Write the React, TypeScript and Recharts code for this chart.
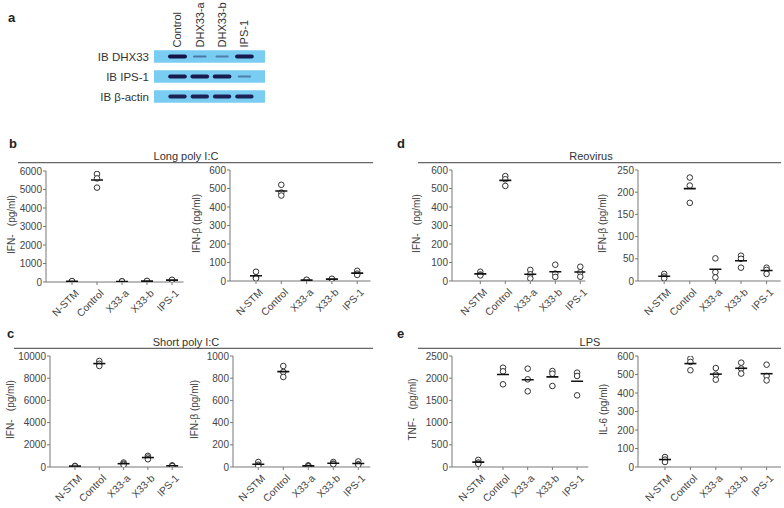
import React from 'react';
import { ScatterChart, Scatter, XAxis, YAxis, ReferenceArea } from 'recharts';

// ---------- data ----------
const CATEGORIES = ['N-STM', 'Control', 'X33-a', 'X33-b', 'IPS-1'];

const LONG_IFNA = [[30, 40, 50], [5840, 5600, 5100], [20, 30, 35], [40, 50, 60], [80, 100, 120]];
const LONG_IFNB = [[50, 20, 14], [520, 478, 462], [3, 5, 7], [8, 10, 12], [55, 40, 33]];
const REO_IFNA = [[50, 35, 30], [567, 550, 514], [60, 36, 14], [88, 40, 22], [77, 47, 23]];
const REO_IFNB = [[16, 10, 6], [233, 215, 176], [51, 20, 8], [57, 50, 30], [30, 25, 16]];
const SHORT_IFNA = [[100, 80, 60], [9550, 9300, 9100], [400, 300, 200], [1000, 850, 700], [150, 100, 80]];
const SHORT_IFNB = [[45, 20, 10], [910, 856, 811], [15, 10, 5], [45, 30, 25], [50, 25, 20]];
const LPS_TNF = [[160, 100, 70], [2237, 2155, 1862], [2215, 1975, 1705], [2162, 2102, 1824], [2125, 2050, 1614]];
const LPS_IL6 = [[54, 40, 27], [586, 568, 523], [535, 499, 472], [564, 532, 505], [553, 492, 468]];

const TICKS_6000 = [0, 1000, 2000, 3000, 4000, 5000, 6000];
const TICKS_600 = [0, 100, 200, 300, 400, 500, 600];
const TICKS_250 = [0, 50, 100, 150, 200, 250];
const TICKS_10000 = [0, 2000, 4000, 6000, 8000, 10000];
const TICKS_1000 = [0, 200, 400, 600, 800, 1000];
const TICKS_2500 = [0, 500, 1000, 1500, 2000, 2500];

const BLOT_LANES = ['Control', 'DHX33-a', 'DHX33-b', 'IPS-1'];
const BLOT_ROWS = ['IB DHX33', 'IB IPS-1', 'IB \u03B2-actin'];
const BLOT_DHX33 = [1.0, 0.22, 0.18, 0.95];
const BLOT_IPS1 = [0.95, 0.95, 0.95, 0.18];
const BLOT_ACTIN = [0.9, 0.9, 0.9, 0.9];

const FONT = '"Liberation Sans", Arial, Helvetica, sans-serif';
const TXT = '#444';
const AX = '#777';

// ---------- blot ----------
const LaneTick = (props: any) => {
  const { x, payload } = props;
  const y = 47.5;
  return (
    <text x={x} y={y} transform={`rotate(-90, ${x}, ${y})`} textAnchor="start" dy="0.35em"
      fontSize={11} fill="#333" fontFamily={FONT}>
      {BLOT_LANES[payload.value]}
    </text>
  );
};

const BandShape = (props: any) => {
  const { cx, cy, payload } = props;
  const v = payload.v;
  const w = 12 + 7 * v;
  const h = 1.5 + 2.6 * v;
  return <rect x={cx - w / 2} y={cy - h / 2} width={w} height={h} rx={h / 2} fill="#14144a" fillOpacity={0.3 + 0.7 * v} />;
};

function Blot() {
  const rows = [BLOT_DHX33, BLOT_IPS1, BLOT_ACTIN];
  const data = rows.flatMap((r, ri) => r.map((v, li) => ({ lane: li, row: ri, v })));
  const xDom: [number, number] = [-1.054, 3.924];
  return (
    <div style={{ position: 'absolute', left: 0, top: 0 }}>
      <ScatterChart width={275} height={110} margin={{ top: 0, right: 10, bottom: 3.5, left: 0 }}>
        <XAxis type="number" dataKey="lane" orientation="top" domain={xDom} ticks={[0, 1, 2, 3]} height={46.5}
          axisLine={false} tickLine={false} tick={<LaneTick />} allowDataOverflow interval={0} />
        <YAxis type="number" dataKey="row" domain={[-0.5, 2.5]} reversed ticks={[0, 1, 2]} width={154}
          axisLine={false} tickLine={false} tickSize={0} tickMargin={5} interval={0} allowDataOverflow
          tick={{ fontSize: 11.5, fill: '#333', fontFamily: FONT }}
          tickFormatter={(v: number) => BLOT_ROWS[v]} />
        {BLOT_ROWS.map((_, i) => (
          <ReferenceArea key={i} x1={xDom[0]} x2={xDom[1]} y1={i - 0.31} y2={i + 0.31}
            fill="#7acdf2" fillOpacity={1} stroke="none" ifOverflow="visible" />
        ))}
        <Scatter data={data} dataKey="row" shape={BandShape} isAnimationActive={false} />
      </ScatterChart>
    </div>
  );
}

// ---------- scatter panels ----------
type Geo = { axisX: number; first: number; sp: number; end: number; top: number; zero: number; labOff: number };

const CatTick = (props: any) => {
  const { x, y, payload } = props;
  const tx = x + 2;
  const ty = y + 1.5;
  return (
    <text x={tx} y={ty} transform={`rotate(-45, ${tx}, ${ty})`} textAnchor="end" dy="0.75em"
      fontSize={10.3} fill={TXT} fontFamily={FONT}>
      {CATEGORIES[payload.value]}
    </text>
  );
};

const CircleShape = (props: any) => (
  <circle cx={props.cx} cy={props.cy} r={2.8} fill="#fff" stroke="#333" strokeWidth={1} />
);
const MeanShape = (props: any) => (
  <line x1={props.cx - 6} x2={props.cx + 6} y1={props.cy} y2={props.cy} stroke="#111" strokeWidth={1.6} />
);

function Panel({ values, ticks, yLabel, geo }: { values: number[][]; ticks: number[]; yLabel: string; geo: Geo }) {
  const YW = 60, XH = 50, MT = 10, MR = 4;
  const plotH = geo.zero - geo.top;
  const width = YW + (geo.end - geo.axisX) + MR;
  const height = MT + plotH + XH;
  const points = values.flatMap((vs, i) => vs.map((v) => ({ x: i, y: v })));
  const means = values.map((vs, i) => ({ x: i, y: vs.reduce((a, b) => a + b, 0) / vs.length }));
  const dom: [number, number] = [(geo.axisX - geo.first) / geo.sp, (geo.end - geo.first) / geo.sp];
  const max = ticks[ticks.length - 1];
  const lx = YW - geo.labOff;
  const ly = MT + plotH / 2 - 2;
  return (
    <div style={{ position: 'absolute', left: geo.axisX - YW, top: geo.top - MT }}>
      <ScatterChart width={width} height={height} margin={{ top: MT, right: MR, bottom: 0, left: 0 }}>
        <XAxis type="number" dataKey="x" domain={dom} ticks={[0, 1, 2, 3, 4]} interval={0} allowDataOverflow
          height={XH} stroke={AX} tickSize={3} tick={<CatTick />} />
        <YAxis type="number" dataKey="y" domain={[0, max]} ticks={ticks} interval={0} allowDataOverflow
          width={YW} stroke={AX} tickSize={3} tickMargin={1}
          tick={{ fontSize: 10, fill: TXT, fontFamily: FONT }}
          label={() => (
            <text x={lx} y={ly} transform={`rotate(-90, ${lx}, ${ly})`} textAnchor="middle"
              dominantBaseline="central" fontSize={10} fill={TXT} fontFamily={FONT}>
              {yLabel}
            </text>
          )} />
        <Scatter data={points} shape={CircleShape} isAnimationActive={false} />
        <Scatter data={means} shape={MeanShape} isAnimationActive={false} />
      </ScatterChart>
    </div>
  );
}

const NB = '\u00A0';

export default function App() {
  return (
    <div style={{ position: 'absolute', left: 0, top: 0, width: 784, height: 508, background: '#fff', fontFamily: FONT, overflow: 'hidden' }}>
      <Blot />
      <Panel values={LONG_IFNA} ticks={TICKS_6000} yLabel={`IFN-${NB}${NB}${NB}(pg/ml)`}
        geo={{ axisX: 45.5, first: 71.5, sp: 25, end: 183, top: 171, zero: 282, labOff: 35 }} />
      <Panel values={LONG_IFNB} ticks={TICKS_600} yLabel="IFN-β (pg/ml)"
        geo={{ axisX: 229.5, first: 255.5, sp: 25.3, end: 370, top: 170, zero: 281, labOff: 34 }} />
      <Panel values={REO_IFNA} ticks={TICKS_600} yLabel={`IFN-${NB}${NB}${NB}(pg/ml)`}
        geo={{ axisX: 451.7, first: 480, sp: 25, end: 585, top: 170, zero: 281, labOff: 35 }} />
      <Panel values={REO_IFNB} ticks={TICKS_250} yLabel="IFN-β (pg/ml)"
        geo={{ axisX: 638.3, first: 664.5, sp: 25.6, end: 781, top: 170, zero: 281, labOff: 35 }} />
      <Panel values={SHORT_IFNA} ticks={TICKS_10000} yLabel={`IFN-${NB}${NB}${NB}(pg/ml)`}
        geo={{ axisX: 50, first: 75, sp: 24.3, end: 183, top: 355.7, zero: 466.7, labOff: 40 }} />
      <Panel values={SHORT_IFNB} ticks={TICKS_1000} yLabel="IFN-β (pg/ml)"
        geo={{ axisX: 232.7, first: 258, sp: 25, end: 370, top: 355.7, zero: 466.7, labOff: 38 }} />
      <Panel values={LPS_TNF} ticks={TICKS_2500} yLabel={`TNF-${NB}${NB}${NB}(pg/ml)`}
        geo={{ axisX: 451.7, first: 478, sp: 24.7, end: 588, top: 355.7, zero: 466.7, labOff: 39 }} />
      <Panel values={LPS_IL6} ticks={TICKS_600} yLabel="IL-6 (pg/ml)"
        geo={{ axisX: 638, first: 665, sp: 25.4, end: 781, top: 355.7, zero: 466.7, labOff: 35 }} />
      <svg width={784} height={508} style={{ position: 'absolute', left: 0, top: 0, pointerEvents: 'none' }}>
        <g fontFamily={FONT} fontWeight="bold" fontSize={13} fill="#222">
          <text x={8} y={22}>a</text>
          <text x={9} y={148}>b</text>
          <text x={7} y={338}>c</text>
          <text x={397} y={148}>d</text>
          <text x={397} y={338}>e</text>
        </g>
        <g stroke="#666" strokeWidth={1.2}>
          <line x1={18} x2={373} y1={162.7} y2={162.7} />
          <line x1={418} x2={781} y1={162.7} y2={162.7} />
          <line x1={14} x2={373} y1={348.3} y2={348.3} />
          <line x1={418} x2={781} y1={348.3} y2={348.3} />
        </g>
        <g fontFamily={FONT} fontSize={11} fill="#333" textAnchor="middle">
          <text x={186} y={160.3}>Long poly I:C</text>
          <text x={591} y={160.3}>Reovirus</text>
          <text x={186} y={345.8}>Short poly I:C</text>
          <text x={590} y={345.8}>LPS</text>
        </g>
      </svg>
    </div>
  );
}
